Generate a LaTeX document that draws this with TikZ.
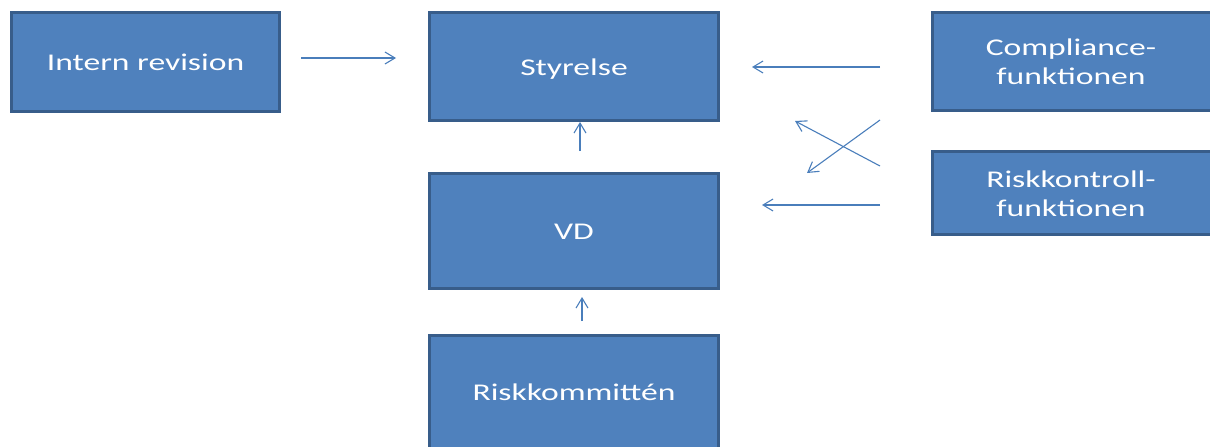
\documentclass[tikz,border=0pt]{standalone}
\usepackage{fontspec}
\setmainfont{Carlito}
\usetikzlibrary{arrows.meta,calc}
\definecolor{boxfill}{HTML}{4F81BD}
\definecolor{boxline}{HTML}{385D8A}
\definecolor{arrowc}{HTML}{4A7EBB}
\newcommand{\bt}[1]{\raisebox{0pt}[\dimexpr\height+6pt\relax][\depth]{\scalebox{1.4}[1]{\begin{tabular}{@{}c@{}}#1\end{tabular}}}}
\tikzset{
  box/.style={draw=boxline, fill=boxfill, line width=3pt, text=white, inner sep=0pt,
    font=\fontsize{24}{29}\selectfont},
  conn/.style={draw=arrowc, line width=1.1pt, -{Straight Barb[length=10pt,width=12pt,line width=1.1pt]}}
}
\begin{document}
\begin{tikzpicture}[x=1pt,y=-1pt]
\useasboundingbox (0,0) rectangle (1210,447);
\clip (0,0) rectangle (1210,447);
\node[box, minimum width=268pt, minimum height=99pt] (ir) at (145.5,62) {\bt{Intern revision}};
\node[box, minimum width=289pt, minimum height=108pt] (sty) at (574,66.5) {\bt{Styrelse}};
\node[box, minimum width=289pt, minimum height=115pt] (vd) at (574,231) {\bt{VD}};
\node[box, minimum width=289pt, minimum height=113pt] (rk) at (574,392) {\bt{Riskkommittén}};
\node[box, minimum width=300pt, minimum height=98pt] (comp) at (1082.5,61.5) {\hspace*{-23pt}\bt{Compliance-\\funktionen}};
\node[box, minimum width=300pt, minimum height=83pt] (rc) at (1082.5,193) {\hspace*{-23pt}\bt{Riskkontroll-\\funktionen}};
% connectors
\coordinate (a1s) at (301,58);  \coordinate (a1e) at (396,58);
\coordinate (a2s) at (880,67);  \coordinate (a2e) at (752,67);
\coordinate (a3s) at (880,205); \coordinate (a3e) at (762,205);
\coordinate (a4s) at (880,120); \coordinate (a4e) at (807,173);
\coordinate (a5s) at (880,166); \coordinate (a5e) at (795,121);
\coordinate (a6s) at (580,151); \coordinate (a6e) at (580,122);
\coordinate (a7s) at (582,321); \coordinate (a7e) at (582,297);
\draw[conn] (a1s) -- (a1e);
\draw[conn] (a2s) -- (a2e);
\draw[conn] (a3s) -- (a3e);
\draw[conn] (a4s) -- (a4e);
\draw[conn] (a5s) -- (a5e);
\draw[conn] (a6s) -- (a6e);
\draw[conn] (a7s) -- (a7e);
\end{tikzpicture}
\end{document}
